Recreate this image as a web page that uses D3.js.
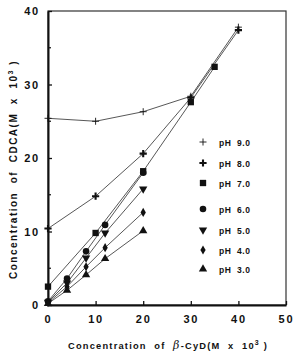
<!DOCTYPE html>
<html>
<head>
<meta charset="utf-8">
<script src="https://cdn.jsdelivr.net/npm/d3@7"></script>
<style>
  body { margin: 0; background: #fff; }
  svg { display: block; }
  text { font-family: "Liberation Sans", Arial, sans-serif; font-weight: bold; fill: #111; white-space: pre; }
</style>
</head>
<body>
<svg id="chart"></svg>
<script>
// Data
const seriesNames = ['pH  9.0', 'pH  8.0', 'pH  7.0', 'pH  6.0', 'pH  5.0', 'pH  4.0', 'pH  3.0'];
const markerTypes = ['thinplus', 'boldplus', 'square', 'circle', 'tridown', 'diamond', 'triup'];

const cydHigh = [0, 10, 20, 30, 40];
const cydPh7 = [0, 10, 20, 30, 35];
const cydLow = [0, 4, 8, 12, 20];

const ph9 = [25.4, 25.0, 26.3, 28.4, 37.8];
const ph8 = [10.4, 14.8, 20.6, 28.2, 37.4];
const ph7 = [2.5, 9.8, 18.2, 27.6, 32.4];
const ph6 = [0.5, 3.6, 7.3, 10.9, 18.0];
const ph5 = [0.4, 3.0, 6.4, 9.8, 15.8];
const ph4 = [0.3, 2.5, 5.2, 7.8, 12.6];
const ph3 = [0.2, 2.0, 4.1, 6.3, 10.1];

const xTicks = [0, 10, 20, 30, 40, 50];
const yTicks = [0, 10, 20, 30, 40];
const yMinorTicks = [5, 15, 25, 35];

const seriesX = [cydHigh, cydHigh, cydPh7, cydLow, cydLow, cydLow, cydLow];
const seriesY = [ph9, ph8, ph7, ph6, ph5, ph4, ph3];

const width = 295, height = 351;
const margin = { left: 48, right: 9, top: 11, bottom: 46 };

const svg = d3.select('#chart').attr('width', width).attr('height', height);

const x = d3.scaleLinear().domain([0, 50]).range([margin.left, width - margin.right]);
const y = d3.scaleLinear().domain([0, 40]).range([height - margin.bottom, margin.top]);

// Frame (top/right thin)
svg.append('rect')
    .attr('x', x(0)).attr('y', y(40))
    .attr('width', x(50) - x(0)).attr('height', y(0) - y(40))
    .attr('fill', 'none').attr('stroke', '#333').attr('stroke-width', 1.2);

// Bottom axis
const xAxis = svg.append('g')
    .attr('transform', `translate(0,${y(0)})`)
    .call(d3.axisBottom(x).tickValues(xTicks).tickSizeInner(-4).tickSizeOuter(0).tickPadding(10));
xAxis.select('.domain').attr('stroke', '#111').attr('stroke-width', 2);
xAxis.selectAll('.tick line').attr('stroke', '#111').attr('stroke-width', 1.3);
xAxis.selectAll('text')
    .attr('font-size', 11).attr('letter-spacing', 1.8).attr('fill', '#111')
    .attr('font-family', '"Liberation Sans", Arial, sans-serif').attr('font-weight', 'bold');

// Left axis
const yAxis = svg.append('g')
    .attr('transform', `translate(${x(0)},0)`)
    .call(d3.axisLeft(y).tickValues(yTicks).tickSizeInner(-4).tickSizeOuter(0).tickPadding(8));
yAxis.select('.domain').attr('stroke', '#111').attr('stroke-width', 2);
yAxis.selectAll('.tick line').attr('stroke', '#111').attr('stroke-width', 1.3);
yAxis.selectAll('text')
    .attr('font-size', 11).attr('letter-spacing', 1.8).attr('fill', '#111')
    .attr('font-family', '"Liberation Sans", Arial, sans-serif').attr('font-weight', 'bold');

svg.append('g').selectAll('line')
    .data(yMinorTicks)
    .join('line')
    .attr('x1', x(0)).attr('x2', x(0) + 3)
    .attr('y1', d => y(d)).attr('y2', d => y(d))
    .attr('stroke', '#111').attr('stroke-width', 1.2);

// stretch a title's letter spacing so it spans the target length
function fitText(t, target, ls) {
    const w = t.node().getBBox().width;
    const n = t.text().length;
    t.attr('letter-spacing', ls + (target - w) / n);
}

// Axis titles
const xt = svg.append('text')
    .attr('x', 68).attr('y', 349)
    .attr('font-size', 9.3).attr('letter-spacing', 0.6);
xt.append('tspan').text('Concentration  of  ');
xt.append('tspan').attr('font-style', 'italic').attr('font-family', '"DejaVu Serif", serif').attr('font-weight', 'normal').attr('font-size', 11).text('β');
xt.append('tspan').text('-CyD(M  x  10');
xt.append('tspan').attr('dy', -4).attr('font-size', 7).text('3');
xt.append('tspan').attr('dy', 4).text(' )');
fitText(xt, 200, 0.6);

const yt = svg.append('text')
    .attr('transform', `translate(17,279) rotate(-90)`)
    .attr('font-size', 10).attr('letter-spacing', 0.9);
yt.append('tspan').text('Concentration  of  CDCA(M  x  10');
yt.append('tspan').attr('dy', -4).attr('font-size', 7).text('3');
yt.append('tspan').attr('dy', 4).text(' )');
fitText(yt, 219, 0.9);

// Markers
function drawMarker(g, type) {
    if (type === 'thinplus' || type === 'boldplus') {
        const s = type === 'thinplus' ? 3.5 : 3.6;
        const w = type === 'thinplus' ? 0.9 : 2.1;
        g.append('path').attr('d', `M${-s},0H${s}M0,${-s}V${s}`)
            .attr('stroke', '#111').attr('stroke-width', w).attr('fill', 'none');
        return;
    }
    const sym = {
        square: d3.symbol(d3.symbolSquare, 40),
        circle: d3.symbol(d3.symbolCircle, 34),
        diamond: d3.symbol(d3.symbolDiamond, 24),
        triup: d3.symbol(d3.symbolTriangle, 30),
        tridown: d3.symbol(d3.symbolTriangle, 30)
    }[type];
    g.append('path').attr('d', sym())
        .attr('transform', type === 'tridown' ? 'rotate(180)' : null)
        .attr('fill', '#111');
}

const line = d3.line().x(d => x(d[0])).y(d => y(d[1]));

seriesNames.forEach((name, i) => {
    const pts = seriesX[i].map((v, j) => [v, seriesY[i][j]]);
    svg.append('path')
        .datum(pts)
        .attr('d', line)
        .attr('fill', 'none').attr('stroke', '#444').attr('stroke-width', 0.9);
});

seriesNames.forEach((name, i) => {
    const pts = seriesX[i].map((v, j) => [v, seriesY[i][j]]);
    svg.append('g').selectAll('g')
        .data(pts)
        .join('g')
        .attr('transform', d => `translate(${x(d[0])},${y(d[1])})`)
        .each(function () { drawMarker(d3.select(this), markerTypes[i]); });
});

// Legend
const legendY = [142, 163, 183, 209, 230, 250, 269];
const legend = svg.append('g');
seriesNames.forEach((name, i) => {
    const g = legend.append('g').attr('transform', `translate(203,${legendY[i]})`);
    drawMarker(g, markerTypes[i]);
    g.append('text').attr('x', 16).attr('y', 3.5)
        .attr('font-size', 8.5).attr('letter-spacing', 0.5)
        .text(name);
});
</script>
</body>
</html>
